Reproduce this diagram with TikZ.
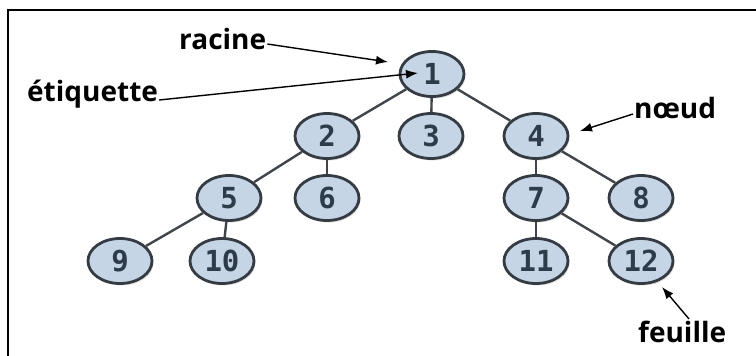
\documentclass[tikz,border=0pt]{standalone}
\usepackage{fontspec}
\setmainfont{Open Sans}
\newfontfamily\digitfont{DejaVu Sans Mono}
\usetikzlibrary{shapes.geometric,arrows.meta,shadows}
\definecolor{nodefill}{HTML}{C6D5E6}
\definecolor{nodeborder}{HTML}{353B42}
\definecolor{digit}{HTML}{2E3B48}
\definecolor{edgecol}{HTML}{40454B}
\tikzset{
  treenode/.style={ellipse, draw=nodeborder, line width=2.8pt, fill=nodefill,
    minimum width=64pt, minimum height=45pt, inner sep=0pt,
    font=\digitfont\bfseries\fontsize{29}{29}\selectfont, text=digit,
    drop shadow={opacity=0.25, shadow xshift=1.5pt, shadow yshift=-2pt}},
  treeedge/.style={draw=edgecol, line width=2.4pt},
  lbl/.style={font=\bfseries\fontsize{28}{28}\selectfont, text=black, inner sep=0pt},
  pointer/.style={line width=1.4pt, -{Latex[length=12pt,width=9pt]}},
  frameline/.style={line width=2pt, draw=black}
}
\begin{document}
\begin{tikzpicture}[x=1pt,y=-1pt]
\useasboundingbox (0,0) rectangle (756,356);
\draw[frameline] (8,356) -- (8,10) -- (756,10);
% nodes
\node[treenode] (n1) at (432,74) {1};
\node[treenode] (n2) at (327,136) {2};
\node[treenode] (n3) at (431,136) {3};
\node[treenode] (n4) at (536,136) {4};
\node[treenode] (n5) at (229,198) {5};
\node[treenode] (n6) at (327,198) {6};
\node[treenode] (n7) at (536,198) {7};
\node[treenode] (n8) at (641,198) {8};
\node[treenode] (n9) at (120,261) {9};
\node[treenode] (n10) at (222,261) {10};
\node[treenode] (n11) at (536,261) {11};
\node[treenode] (n12) at (641,261) {12};
% edges
\draw[treeedge] (n1) -- (n2);
\draw[treeedge] (n1) -- (n3);
\draw[treeedge] (n1) -- (n4);
\draw[treeedge] (n2) -- (n5);
\draw[treeedge] (n2) -- (n6);
\draw[treeedge] (n4) -- (n7);
\draw[treeedge] (n4) -- (n8);
\draw[treeedge] (n5) -- (n9);
\draw[treeedge] (n5) -- (n10);
\draw[treeedge] (n7) -- (n11);
\draw[treeedge] (n7) -- (n12);
% labels
\node[lbl, anchor=west] (racine) at (179,39) {racine};
\node[lbl, anchor=west] (etiq) at (27,94) {étiquette};
\node[lbl, anchor=west] (noeud) at (634,108) {nœud};
\node[lbl, anchor=west] (feuille) at (638,332) {feuille};
\coordinate (racinetip) at (388,62);
\coordinate (etiqtip) at (418,73);
\coordinate (noeudtip) at (580,131);
\coordinate (feuilletip) at (662,287);
\draw[pointer] ([xshift=1pt,yshift=-5pt]racine.east) -- (racinetip);
\draw[pointer] ([xshift=1pt,yshift=-6pt]etiq.east) -- (etiqtip);
\draw[pointer] ([xshift=-1pt,yshift=-6pt]noeud.west) -- (noeudtip);
\draw[pointer] ([xshift=51pt,yshift=2pt]feuille.north west) -- (feuilletip);
\end{tikzpicture}
\end{document}
